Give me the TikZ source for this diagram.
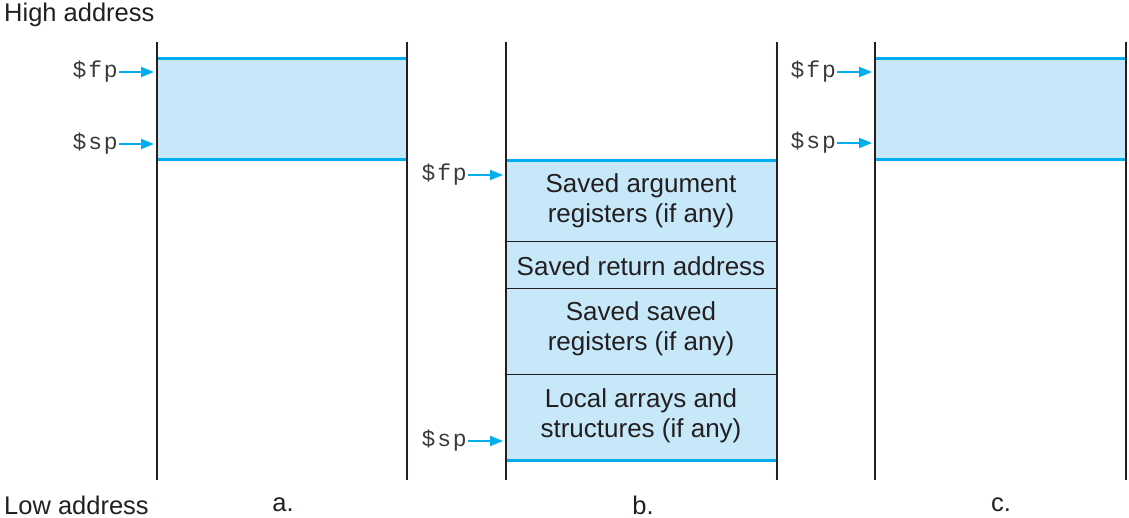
\documentclass[tikz,border=0pt]{standalone}
\usepackage{fontspec}
\setmainfont{Liberation Sans}
\newfontfamily\regfont[LetterSpace=8]{Liberation Mono}
\usetikzlibrary{arrows.meta}
\definecolor{stackblue}{HTML}{00AEEF}
\definecolor{stackfill}{HTML}{C7E8F9}
\definecolor{ink}{HTML}{231F20}
\definecolor{reggray}{HTML}{3A3A3A}
\begin{document}
\begin{tikzpicture}[x=1pt,y=-1pt,
  wall/.style={draw=ink,line width=1.3pt},
  edge/.style={draw=stackblue,line width=3pt},
  divider/.style={draw=ink,line width=1pt},
  lbl/.style={text=ink,font=\fontsize{25.5}{28}\selectfont,inner sep=0pt},
  celltext/.style={text=ink,font=\fontsize{26}{30}\selectfont,align=center,inner sep=0pt},
  reg/.style={text=reggray,font=\regfont\fontsize{23}{24}\selectfont,inner sep=1pt,anchor=east},
  ptr/.style={draw=stackblue,line width=1.8pt,-{Triangle[length=13pt,width=10pt]}}]
\useasboundingbox (0,0) rectangle (1129,518);
% fills
\fill[stackfill] (157,59) rectangle (407,160);
\fill[stackfill] (506,161) rectangle (777,460);
\fill[stackfill] (875,59) rectangle (1126,160);
% column a
\draw[edge] (157,59) -- (407,59);
\draw[edge] (157,160) -- (407,160);
\draw[wall] (157,42) -- (157,480);
\draw[wall] (407,42) -- (407,480);
% column b
\draw[divider] (506,242) -- (777,242);
\draw[divider] (506,289) -- (777,289);
\draw[divider] (506,374) -- (777,374);
\draw[edge] (506,161) -- (777,161);
\draw[edge] (506,460) -- (777,460);
\draw[wall] (506,42) -- (506,480);
\draw[wall] (777,42) -- (777,480);
% column c
\draw[edge] (875,59) -- (1126,59);
\draw[edge] (875,160) -- (1126,160);
\draw[wall] (875,42) -- (875,480);
\draw[wall] (1126,42) -- (1126,480);
% cell texts
\node[celltext] (args) at (641,201) {Saved argument\\registers (if any)};
\node[celltext] (ret) at (641,266) {Saved return address};
\node[celltext] (saved) at (641,329) {Saved saved\\registers (if any)};
\node[celltext] (local) at (641,416) {Local arrays and\\structures (if any)};
% labels
\node[lbl,anchor=west] (high) at (4,15) {High address};
\node[lbl,anchor=west] (low) at (4,505) {Low address};
\node[lbl] (la) at (283,505) {a.};
\node[lbl] (lb) at (643,505) {b.};
\node[lbl] (lc) at (1001,505) {c.};
% pointers
\coordinate (fpAt) at (154,72);
\coordinate (spAt) at (154,144);
\coordinate (fpBt) at (503,175);
\coordinate (spBt) at (503,441);
\coordinate (fpCt) at (872,72);
\coordinate (spCt) at (872,143);
\node[reg] (fpA) at (119,72) {\$fp};
\node[reg] (spA) at (119,144) {\$sp};
\node[reg] (fpB) at (468,175) {\$fp};
\node[reg] (spB) at (468,441) {\$sp};
\node[reg] (fpC) at (837,72) {\$fp};
\node[reg] (spC) at (837,143) {\$sp};
\draw[ptr] (fpA.east) -- (fpAt);
\draw[ptr] (spA.east) -- (spAt);
\draw[ptr] (fpB.east) -- (fpBt);
\draw[ptr] (spB.east) -- (spBt);
\draw[ptr] (fpC.east) -- (fpCt);
\draw[ptr] (spC.east) -- (spCt);
\end{tikzpicture}
\end{document}
